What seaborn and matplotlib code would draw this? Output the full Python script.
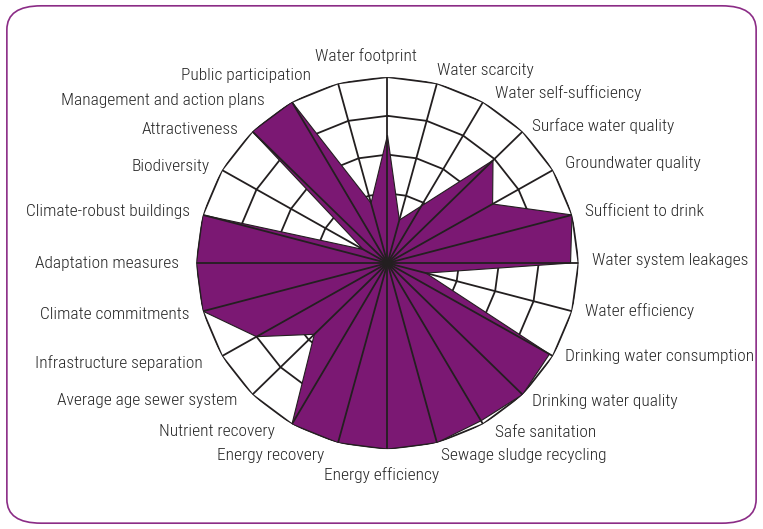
import numpy as np
import matplotlib
matplotlib.use("Agg")
import matplotlib.pyplot as plt
import seaborn as sns
from matplotlib.patches import FancyBboxPatch

# ------------------------------------------------------------
# Data: scores per indicator (clockwise from the top)
# ------------------------------------------------------------
categories = [
    "Water footprint", "Water scarcity", "Water self-sufficiency",
    "Surface water quality", "Groundwater quality", "Sufficient to drink",
    "Water system leakages", "Water efficiency", "Drinking water consumption",
    "Drinking water quality", "Safe sanitation", "Sewage sludge recycling",
    "Energy efficiency", "Energy recovery", "Nutrient recovery",
    "Average age sewer system", "Infrastructure separation", "Climate commitments",
    "Adaptation measures", "Climate-robust buildings", "Biodiversity",
    "Attractiveness", "Management and action plans", "Public participation",
]
scores = [3.5, 1.35, 1.9, 3.95, 3.25, 5.0, 4.8, 1.2, 4.9, 5.0, 4.9, 5.0,
          5.0, 5.0, 5.0, 2.8, 4.0, 5.0, 5.0, 5.0, 0.9, 5.0, 5.0, 1.8]
ring_levels = [1, 2, 3, 4, 5]

# small label nudges (pixels, +y up), same order as categories
label_nudge = [(-22, 0), (-4, 0), (5, -3), (0, -4), (0, 0), (0, 0),
               (0, 3), (0, 4), (0, 6), (0, 3), (5, 3), (0, 0),
               (-6, -5), (-10, 0), (-10, 4), (-5, 4), (-7, 0), (0, 0),
               (-4, 0), (0, 0), (0, -3), (-4, -8), (-20, -10), (-23, -5)]

PURPLE = "#7b1873"
LINE = "#231f20"

sns.set_theme(style="white")
plt.rcParams["font.family"] = ["Roboto Condensed", "Liberation Sans Narrow",
                               "Roboto", "DejaVu Sans"]

n = len(categories)
theta = np.linspace(0, 2 * np.pi, n, endpoint=False)
theta_closed = np.append(theta, theta[0])
scores_closed = np.append(scores, scores[0])

fig = plt.figure(figsize=(7.63, 5.29), dpi=100)
fig.patch.set_facecolor("white")

# rounded frame
frame = FancyBboxPatch((0.009, 0.011), 0.982, 0.978,
                       boxstyle="round,pad=0,rounding_size=0.045",
                       transform=fig.transFigure, fill=False,
                       edgecolor="#8b2c86", linewidth=1.2)
fig.patches.append(frame)

ax = fig.add_axes([0.2575, 0.1511, 0.5007, 0.7032], projection="polar")
ax.set_aspect("auto")
ax.set_theta_zero_location("N")
ax.set_theta_direction(-1)
ax.set_ylim(0.2, 5)
ax.grid(False)
ax.spines["polar"].set_visible(False)
ax.set_xticks([])
ax.set_yticks([])
ax.set_facecolor("white")

# polygon rings
for lvl in ring_levels:
    ax.plot(theta_closed, [lvl] * (n + 1), color=LINE, lw=1.3, zorder=1)

# filled scores
ax.fill(theta_closed, scores_closed, facecolor=PURPLE, edgecolor=LINE,
        linewidth=0.8, zorder=2)

# spokes
ax.vlines(theta, 0.2, 5, color=LINE, lw=1.3, zorder=3)

# labels
for t, lab, nudge in zip(theta, categories, label_nudge):
    deg = np.degrees(t) % 360
    if deg < 1 or abs(deg - 180) < 1:
        ha = "center"
        r = 5.55
    elif deg < 180:
        ha = "left"
        r = 5.35
    else:
        ha = "right"
        r = 5.35
    ax.annotate(lab, xy=(t, r), xytext=nudge, textcoords="offset pixels",
                ha=ha, va="center", fontsize=12.5, color="#262626",
                fontstretch="condensed", fontweight="light",
                annotation_clip=False)

fig.savefig("out.png", dpi=100, facecolor="white")
